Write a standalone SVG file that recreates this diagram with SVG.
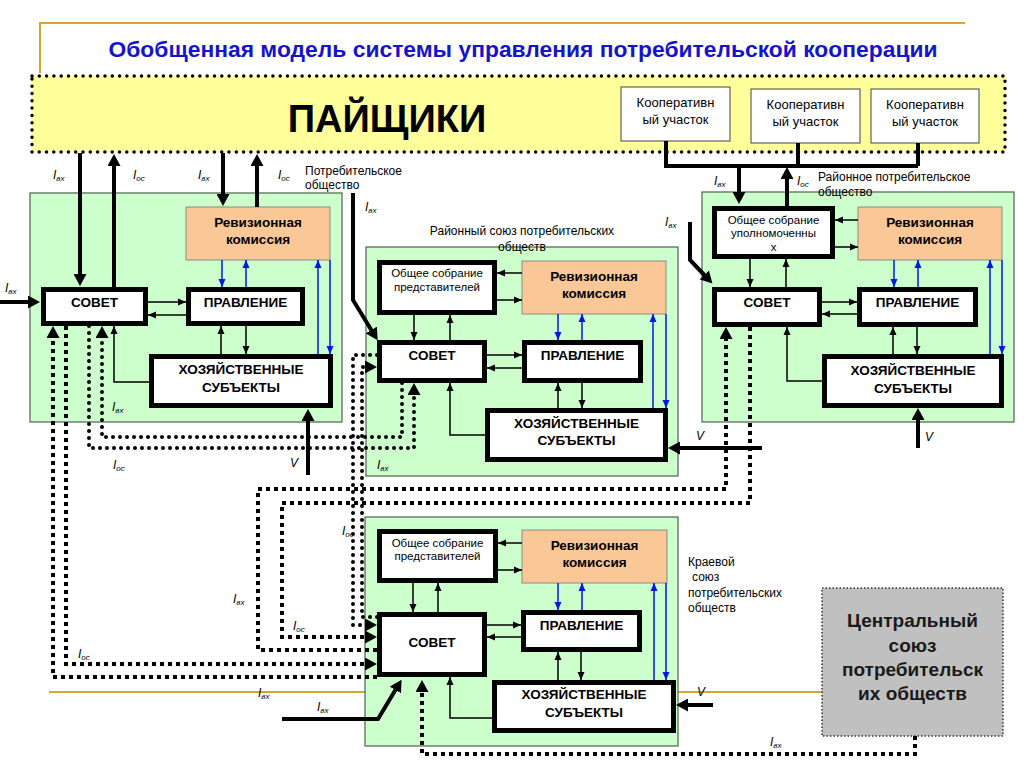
<svg xmlns="http://www.w3.org/2000/svg" width="1024" height="767" viewBox="0 0 1024 767">
<style>
text{font-family:"Liberation Sans",Arial,sans-serif}
.title{font-size:22.5px;font-weight:bold;fill:#1414cc}
.big{font-size:38px;font-weight:bold;fill:#000}
.b{font-size:13.5px;font-weight:bold;text-anchor:middle;fill:#000}
.n{font-size:11.5px;text-anchor:middle;fill:#000}
.coop{font-size:13px;text-anchor:middle;fill:#000}
.cap{font-size:12px;fill:#000}
.lbl{font-size:12px;font-style:italic;fill:#000}
.sub{font-size:8px}
.cen{font-size:19px;font-weight:bold;text-anchor:middle;fill:#1a1a1a}
.green{fill:#ccffcc;stroke:#5a6e5a;stroke-width:1.3}
.box{fill:#fff;stroke:#000;stroke-width:5}
.rev{fill:#fac896;stroke:#888;stroke-width:1}
.gold{fill:none;stroke:#d6a630;stroke-width:2}
.thin{fill:none;stroke:#000;stroke-width:1.5}
.blue{fill:none;stroke:#0019e6;stroke-width:1.5}
.thick{fill:none;stroke:#000;stroke-width:4}
.sq{fill:none;stroke:#000;stroke-width:4;stroke-dasharray:4 4}
.rd{fill:none;stroke:#000;stroke-width:4;stroke-linecap:round;stroke-dasharray:0 7}
</style>
<defs>
<marker id="ah" viewBox="0 0 8 8" refX="8" refY="4" markerWidth="8" markerHeight="8" markerUnits="userSpaceOnUse" orient="auto"><path d="M0,0.5 L8,4 L0,7.5z" fill="#000"/></marker>
<marker id="ahB" viewBox="0 0 8 8" refX="8" refY="4" markerWidth="8" markerHeight="8" markerUnits="userSpaceOnUse" orient="auto"><path d="M0,0.5 L8,4 L0,7.5z" fill="#0019e6"/></marker>
<marker id="ahT" viewBox="0 0 12 13" refX="7" refY="6.5" markerWidth="12" markerHeight="13" markerUnits="userSpaceOnUse" orient="auto"><path d="M0,0 L12,6.5 L0,13z" fill="#000"/></marker>
</defs>
<rect width="1024" height="767" fill="#fff"/>
<g id="frame-lines">
<path class="gold" d="M40,73 V23 H965"/>
<path class="gold" d="M49,692 H822"/>
</g>
<text class="title" x="523" y="57" text-anchor="middle" textLength="829" lengthAdjust="spacingAndGlyphs">Обобщенная модель системы управления потребительской кооперации</text>

<g id="paishchiki">
<rect x="32" y="76" width="973" height="76" fill="#ffff9c" stroke="#000" stroke-width="3.5" stroke-linecap="round" stroke-dasharray="0 7.3"/>
<text class="big" x="387" y="132" text-anchor="middle">ПАЙЩИКИ</text>
</g>
<g id="coop1"><rect x="621" y="87" width="109" height="54" fill="#fff" stroke="#444" stroke-width="1"/><text class="coop" x="675.5" y="107">Кооперативн</text><text class="coop" x="675.5" y="124">ый участок</text></g>
<g id="coop2"><rect x="751" y="89" width="109" height="54" fill="#fff" stroke="#444" stroke-width="1"/><text class="coop" x="805.5" y="109">Кооперативн</text><text class="coop" x="805.5" y="126">ый участок</text></g>
<g id="coop3"><rect x="871" y="89" width="108" height="54" fill="#fff" stroke="#444" stroke-width="1"/><text class="coop" x="925" y="109">Кооперативн</text><text class="coop" x="925" y="126">ый участок</text></g>

<!-- Left block: Потребительское общество -->
<g id="po">
<rect class="green" x="30" y="193" width="312" height="229"/>
<text class="cap" x="305" y="175">Потребительское</text>
<text class="cap" x="305" y="189">общество</text>
</g>
<g id="po-rev"><rect class="rev" x="186" y="207" width="144" height="53"/><text class="b" x="258" y="227">Ревизионная</text><text class="b" x="258" y="244">комиссия</text></g>
<g id="po-sovet"><rect class="box" x="43.5" y="289.5" width="102" height="34"/><text class="b" x="94.5" y="307">СОВЕТ</text></g>
<g id="po-pravl"><rect class="box" x="188.5" y="289.5" width="114" height="34"/><text class="b" x="245.5" y="307">ПРАВЛЕНИЕ</text></g>
<g id="po-hoz"><rect class="box" x="151.5" y="356.5" width="179" height="49"/><text class="b" x="241" y="374">ХОЗЯЙСТВЕННЫЕ</text><text class="b" x="241" y="392">СУБЪЕКТЫ</text></g>

<!-- Middle block: Районный союз -->
<g id="rs">
<rect class="green" x="366" y="247" width="312" height="229"/>
<text class="cap" x="522" y="235" text-anchor="middle">Районный союз потребительских</text>
<text class="cap" x="522" y="251" text-anchor="middle">обществ</text>
</g>
<g id="rs-os"><rect class="box" x="379.5" y="262.5" width="115" height="50"/><text class="n" x="437" y="277">Общее собрание</text><text class="n" x="437" y="291">представителей</text></g>
<g id="rs-rev"><rect class="rev" x="522" y="261" width="144" height="53"/><text class="b" x="594" y="281">Ревизионная</text><text class="b" x="594" y="298">комиссия</text></g>
<g id="rs-sovet"><rect class="box" x="379.5" y="342.5" width="105" height="38"/><text class="b" x="432" y="360">СОВЕТ</text></g>
<g id="rs-pravl"><rect class="box" x="524.5" y="342.5" width="116" height="38"/><text class="b" x="582.5" y="360">ПРАВЛЕНИЕ</text></g>
<g id="rs-hoz"><rect class="box" x="487.5" y="410.5" width="178" height="49"/><text class="b" x="576.5" y="428">ХОЗЯЙСТВЕННЫЕ</text><text class="b" x="576.5" y="445">СУБЪЕКТЫ</text></g>

<!-- Right block: Районное потребительское общество -->
<g id="rpo">
<rect class="green" x="702" y="192" width="312" height="230"/>
<text class="cap" x="818" y="181">Районное потребительское</text>
<text class="cap" x="818" y="196">общество</text>
</g>
<g id="rpo-os"><rect class="box" x="714.5" y="208.5" width="118" height="48"/><text class="n" x="773.5" y="224">Общее собрание</text><text class="n" x="773.5" y="237">уполномоченны</text><text class="n" x="773.5" y="251">х</text></g>
<g id="rpo-rev"><rect class="rev" x="858" y="207" width="144" height="53"/><text class="b" x="930" y="227">Ревизионная</text><text class="b" x="930" y="244">комиссия</text></g>
<g id="rpo-sovet"><rect class="box" x="714.5" y="289.5" width="105" height="35"/><text class="b" x="767" y="307">СОВЕТ</text></g>
<g id="rpo-pravl"><rect class="box" x="859.5" y="289.5" width="116" height="35"/><text class="b" x="917.5" y="307">ПРАВЛЕНИЕ</text></g>
<g id="rpo-hoz"><rect class="box" x="824.5" y="356.5" width="177" height="49"/><text class="b" x="913" y="375">ХОЗЯЙСТВЕННЫЕ</text><text class="b" x="913" y="393">СУБЪЕКТЫ</text></g>

<!-- Bottom block: Краевой союз -->
<g id="ks">
<rect class="green" x="365" y="517" width="313" height="229"/>
<text class="cap" x="688" y="566">Краевой</text>
<text class="cap" x="692" y="581">союз</text>
<text class="cap" x="688" y="597">потребительских</text>
<text class="cap" x="688" y="612">обществ</text>
</g>
<g id="ks-os"><rect class="box" x="379.5" y="531.5" width="116" height="49"/><text class="n" x="437.5" y="547">Общее собрание</text><text class="n" x="437.5" y="560">представителей</text></g>
<g id="ks-rev"><rect class="rev" x="522" y="530" width="145" height="53"/><text class="b" x="594.5" y="550">Ревизионная</text><text class="b" x="594.5" y="567">комиссия</text></g>
<g id="ks-sovet"><rect class="box" x="379.5" y="614.5" width="105" height="60"/><text class="b" x="432" y="647">СОВЕТ</text></g>
<g id="ks-pravl"><rect class="box" x="523.5" y="612.5" width="116" height="37"/><text class="b" x="581.5" y="630">ПРАВЛЕНИЕ</text></g>
<g id="ks-hoz"><rect class="box" x="494.5" y="682.5" width="179" height="48"/><text class="b" x="584" y="699">ХОЗЯЙСТВЕННЫЕ</text><text class="b" x="584" y="717">СУБЪЕКТЫ</text></g>

<g id="central">
<rect x="822" y="588" width="181" height="148" fill="#c0c0c0" stroke="#333" stroke-width="1.5" stroke-dasharray="1.5 2"/>
<text class="cen" x="912.5" y="627">Центральный</text>
<text class="cen" x="912.5" y="652">союз</text>
<text class="cen" x="912.5" y="676">потребительск</text>
<text class="cen" x="912.5" y="700">их обществ</text>
</g>

<g id="connectors">
<!-- thin black -->
<g class="thin" marker-end="url(#ah)">
<path d="M148,302 H186"/><path d="M186,315 H148"/><path d="M246,326 V354"/><path d="M221,354 V326"/><path d="M149,382 H114 V326"/>
<path d="M522,273 H497"/><path d="M497,300 H522"/><path d="M414,315 V340"/><path d="M450,340 V315"/><path d="M487,355 H522"/><path d="M522,368 H487"/><path d="M558,408 V383"/><path d="M582,383 V408"/><path d="M485,435 H450 V383"/>
<path d="M858,220 H835"/><path d="M835,247 H858"/><path d="M750,259 V287"/><path d="M786,287 V259"/><path d="M822,302 H857"/><path d="M857,314 H822"/><path d="M893,354 V327"/><path d="M917,327 V354"/><path d="M822,381 H787 V327"/>
<path d="M522,543 H498"/><path d="M498,570 H522"/><path d="M413,583 V612"/><path d="M438,612 V583"/><path d="M487,625 H521"/><path d="M521,637 H487"/><path d="M558,680 V652"/><path d="M581,652 V680"/><path d="M492,718 H450 V677"/>
</g>
<!-- blue -->
<g class="blue" marker-end="url(#ahB)">
<path d="M222,260 V287"/><path d="M246,287 V260"/><path d="M318,354 V260"/><path d="M330,260 V354"/>
<path d="M558,314 V340"/><path d="M582,340 V314"/><path d="M653,408 V314"/><path d="M666,314 V408"/>
<path d="M894,260 V287"/><path d="M918,287 V260"/><path d="M990,354 V260"/><path d="M1002,260 V354"/>
<path d="M558,583 V610"/><path d="M582,610 V583"/><path d="M654,680 V583"/><path d="M666,583 V680"/>
</g>
<!-- thick -->
<path class="thick" d="M666,141 V166 H918 M798,143 V166 M918,143 V166"/>
<g class="thick" marker-end="url(#ahT)">
<path d="M80,153 V281"/><path d="M114,287 V159"/><path d="M223,153 V201"/><path d="M257,207 V159"/>
<path d="M0,302 H35"/><path d="M308,475 V414"/>
<path d="M353,193 V300 L375,336"/>
<path d="M690,222 V260 L709,280"/>
<path d="M739,166 V199"/><path d="M787,206 V172"/>
<path d="M918,448 V413"/><path d="M762,448 H673"/><path d="M713,705 H681"/>
<path d="M282,719 H378 L399,684"/>
</g>
<!-- square-dotted -->
<g class="sq">
<path d="M377,677 H53 V331" marker-end="url(#ahT)"/>
<path d="M66,326 V664 H372" marker-end="url(#ahT)"/>
<path d="M750,327 V503 H282 V637 H372" marker-end="url(#ahT)"/>
<path d="M377,650 H258 V489 H726 V332" marker-end="url(#ahT)"/>
<path d="M915,736 V754 H422 V685" marker-end="url(#ahT)"/>
</g>
<!-- round-dotted -->
<g class="rd">
<path d="M402,383 V437 H102 V331" marker-end="url(#ahT)"/>
<path d="M89,326 V448 H414 V388" marker-end="url(#ahT)"/>
<path d="M377,355 H353 V625 H372" marker-end="url(#ahT)"/>
<path d="M377,617 H362 V367 H372" marker-end="url(#ahT)"/>
</g>
</g>

<g id="labels">
<text class="lbl" x="53" y="179">I<tspan class="sub" dy="2">вх</tspan></text>
<text class="lbl" x="133" y="179">I<tspan class="sub" dy="2">ос</tspan></text>
<text class="lbl" x="198" y="179">I<tspan class="sub" dy="2">вх</tspan></text>
<text class="lbl" x="278" y="179">I<tspan class="sub" dy="2">ос</tspan></text>
<text class="lbl" x="5" y="292">I<tspan class="sub" dy="2">вх</tspan></text>
<text class="lbl" x="112" y="411">I<tspan class="sub" dy="2">вх</tspan></text>
<text class="lbl" x="113" y="469">I<tspan class="sub" dy="2">ос</tspan></text>
<text class="lbl" x="290" y="467">V</text>
<text class="lbl" x="365" y="211">I<tspan class="sub" dy="2">вх</tspan></text>
<text class="lbl" x="665" y="226">I<tspan class="sub" dy="2">вх</tspan></text>
<text class="lbl" x="377" y="469">I<tspan class="sub" dy="2">вх</tspan></text>
<text class="lbl" x="714" y="185">I<tspan class="sub" dy="2">вх</tspan></text>
<text class="lbl" x="797" y="185">I<tspan class="sub" dy="2">ос</tspan></text>
<text class="lbl" x="696" y="440">V</text>
<text class="lbl" x="925" y="441">V</text>
<text class="lbl" x="342" y="535">I<tspan class="sub" dy="2">ос</tspan></text>
<text class="lbl" x="233" y="603">I<tspan class="sub" dy="2">вх</tspan></text>
<text class="lbl" x="293" y="630">I<tspan class="sub" dy="2">ос</tspan></text>
<text class="lbl" x="78" y="658">I<tspan class="sub" dy="2">ос</tspan></text>
<text class="lbl" x="258" y="697">I<tspan class="sub" dy="2">вх</tspan></text>
<text class="lbl" x="317" y="711">I<tspan class="sub" dy="2">вх</tspan></text>
<text class="lbl" x="697" y="696">V</text>
<text class="lbl" x="770" y="746">I<tspan class="sub" dy="2">вх</tspan></text>
</g>
</svg>
